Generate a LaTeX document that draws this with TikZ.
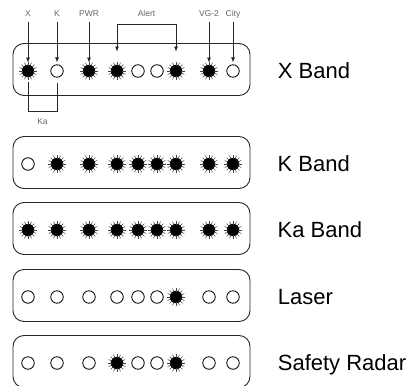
\documentclass[tikz,border=0pt]{standalone}
\usepackage{fontspec}
\setmainfont{Liberation Sans}
\usetikzlibrary{arrows.meta, positioning}

\begin{document}
\begin{tikzpicture}[
  x=1pt, y=-1pt,
  every node/.style={font=\fontsize{8.5}{10}\selectfont},
  panel/.style={rectangle, rounded corners=11pt, draw=black!85, line width=0.9pt, minimum width=237pt, minimum height=52pt},
  lamp0/.style={circle, draw=black, line width=0.8pt, minimum size=12.5pt, inner sep=0pt},
  lamp1/.style={circle, fill=black, minimum size=12.5pt, inner sep=0pt},
  ray/.style={black!75, line width=0.55pt},
  tag/.style={text=black!60, inner sep=1pt, text height=6.2pt, text depth=0pt},
  band/.style={font=\fontsize{22}{26}\selectfont, inner sep=0pt, text height=15.5pt, text depth=0pt},
  arrow/.style={-{Latex[length=5pt, width=4pt]}, line width=0.7pt, black!85},
  twoarrow/.style={{Latex[length=5pt, width=4pt]}-{Latex[length=5pt, width=4pt]}, line width=0.7pt, black!85},
  bracket/.style={line width=0.7pt, black!85}
]
\useasboundingbox (0,0) rectangle (414,385);

% Detector panels with their lamps
\foreach \r/\yy/\pattern/\bandname in {
    xb/71/{1,0,1,1,0,0,1,1,0}/X Band,
    kb/164/{0,1,1,1,1,1,1,1,1}/K Band,
    kab/230/{1,1,1,1,1,1,1,1,1}/Ka Band,
    ls/297/{0,0,0,0,0,0,1,0,0}/Laser,
    sr/363/{0,0,0,1,0,0,1,0,0}/Safety Radar}
{
  \node[panel] (\r-box) at (131.5,\yy-1.5) {};
  \foreach \s [count=\i] in \pattern {
    \pgfmathsetmacro\xx{{28,57,89,117,138,157,176,209,233}[\i-1]}
    \node[lamp\s] (\r-\i) at (\xx,\yy) {};
    \ifnum\s=1
      \foreach \a in {0,22.5,...,337.5}
        \draw[ray] (\r-\i.center) ++(\a:5pt) -- ++(\a:4pt);
    \fi
  }
  \node[band, right=38pt of \r-9] (\r-name) {\bandname};
}

% Lamp captions
\node[tag] (tag-x) at (28,13) {X};
\node[tag] (tag-k) at (57,13) {K};
\node[tag] (tag-pwr) at (89,13) {PWR};
\node[tag] (tag-alert) at (146.5,13) {Alert};
\node[tag] (tag-vg) at (209,13) {VG-2};
\node[tag] (tag-city) at (233,13) {City};
\node[tag] (tag-ka) at (42.5,121) {Ka};

% Arrows to the lamps
\draw[arrow, shorten <=5pt, shorten >=2pt] (tag-x) -- (xb-1);
\draw[arrow, shorten <=5pt, shorten >=2pt] (tag-k) -- (xb-2);
\draw[arrow, shorten <=5pt, shorten >=2pt] (tag-pwr) -- (xb-3);
\draw[arrow, shorten <=5pt, shorten >=2pt] (tag-vg) -- (xb-8);
\draw[arrow, shorten <=5pt, shorten >=2pt] (tag-city) -- (xb-9);

\coordinate (alert-l) at ([yshift=13pt]xb-4.north);
\coordinate (alert-r) at ([yshift=13pt]xb-7.north);
\draw[twoarrow] (alert-l) |- ([yshift=-6.9pt]tag-alert.south) -| (alert-r);

% Ka = X and K together
\draw[bracket, shorten <=5pt, shorten >=5pt] (xb-1) |- ([yshift=4.9pt]tag-ka.north) -| (xb-2);

\end{tikzpicture}
\end{document}
